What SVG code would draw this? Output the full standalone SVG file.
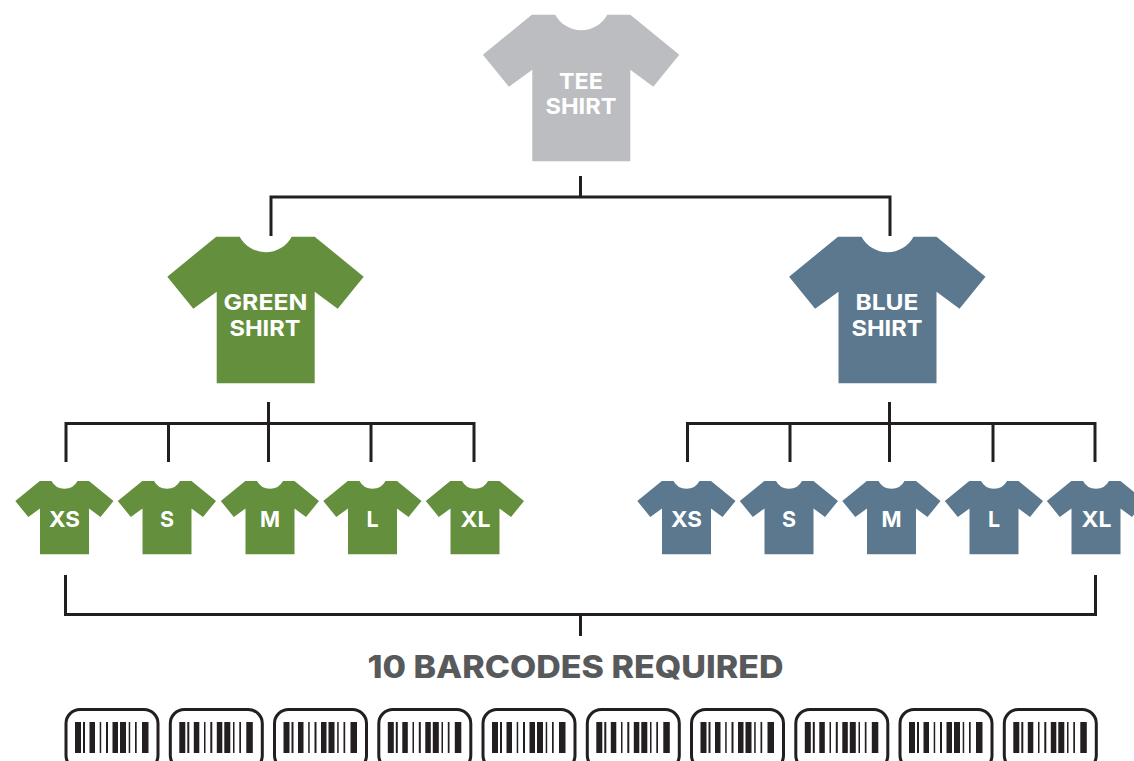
<svg xmlns="http://www.w3.org/2000/svg" width="1134" height="761" viewBox="0 0 1134 761">
<style>
.c{fill:none;stroke:#231f20;stroke-width:3}
.t{font-family:"Inter","Liberation Sans",sans-serif;font-weight:700;fill:#fff;text-anchor:middle}
.l{font-size:22px}
.s{font-size:21.5px}
.box{fill:none;stroke:#231f20;stroke-width:3}
.bar{fill:#231f20}
.gy{fill:#bbbdc0}.gr{fill:#648f3c}.bl{fill:#5b788f}
</style>
<defs>
<path id="shirt" d="M-26 0H-49.5L-98.4 40L-72.4 72L-49 55V146.6H49V55L72 72L98 40L49 0H26A29.5 29.5 0 0 1-26 0Z"/>
<path id="mini" d="M-13 0H-24.7L-49.2 20L-36.2 36L-24.5 27.5V73.3H24.5V27.5L36 36L49 20L24.5 0H13A14.7 14.7 0 0 1-13 0Z"/>
<g id="code">
<rect class="box" x="-9" y="709.5" width="92" height="60" rx="14"/>
<path class="bar" d="M0 722h6v31h-6zM8 722h2v31h-2zM14.5 722h5.5v31h-5.5zM24.7 722h1.5v31h-1.5zM31 722h2v31h-2zM37.5 722h5.5v31h-5.5zM45 722h6v31h-6zM53.7 722h1.5v31h-1.5zM60 722h1.7v31h-1.7zM67 722h6.5v31h-6.5z"/>
</g>
</defs>
<rect width="1134" height="761" fill="#fff"/>
<g id="connectors" class="c">
<path d="M580.5 176V197M271 236V197H890V236"/>
<path d="M268.5 402V462M66 462V423.5H474V462M168.5 423.5V462M371 423.5V462"/>
<path d="M889.5 402V462M687.5 462V423.5H1095V462M790 423.5V462M993 423.5V462"/>
<path d="M65.5 575V614.5H1095.5V575M580.5 614.5V636"/>
</g>
<g id="tee"><use href="#shirt" x="581.3" y="14.7" class="gy"/><text class="t l" x="581" y="88.5" textLength="44" lengthAdjust="spacingAndGlyphs">TEE</text><text class="t l" x="581" y="114" textLength="71" lengthAdjust="spacingAndGlyphs">SHIRT</text></g>
<g id="green"><use href="#shirt" x="265.7" y="236.7" class="gr"/><text class="t l" x="265.5" y="309.5" textLength="84" lengthAdjust="spacingAndGlyphs">GREEN</text><text class="t l" x="265" y="335.5" textLength="71" lengthAdjust="spacingAndGlyphs">SHIRT</text></g>
<g id="blue"><use href="#shirt" x="887.5" y="236.7" class="bl"/><text class="t l" x="887" y="309.5" textLength="63" lengthAdjust="spacingAndGlyphs">BLUE</text><text class="t l" x="887" y="335.5" textLength="71" lengthAdjust="spacingAndGlyphs">SHIRT</text></g>
<g id="green-xs"><use href="#mini" x="64.5" y="481" class="gr"/><text class="t s" x="64.5" y="527" textLength="31" lengthAdjust="spacingAndGlyphs">XS</text></g>
<g id="green-s"><use href="#mini" x="167" y="481" class="gr"/><text class="t s" x="167" y="527">S</text></g>
<g id="green-m"><use href="#mini" x="270" y="481" class="gr"/><text class="t s" x="270" y="527">M</text></g>
<g id="green-l"><use href="#mini" x="372.5" y="481" class="gr"/><text class="t s" x="372.5" y="527">L</text></g>
<g id="green-xl"><use href="#mini" x="475" y="481" class="gr"/><text class="t s" x="475.5" y="527" textLength="30" lengthAdjust="spacingAndGlyphs">XL</text></g>
<g id="blue-xs"><use href="#mini" x="686.5" y="481" class="bl"/><text class="t s" x="686.5" y="527" textLength="31" lengthAdjust="spacingAndGlyphs">XS</text></g>
<g id="blue-s"><use href="#mini" x="789" y="481" class="bl"/><text class="t s" x="789" y="527">S</text></g>
<g id="blue-m"><use href="#mini" x="891.5" y="481" class="bl"/><text class="t s" x="891.5" y="527">M</text></g>
<g id="blue-l"><use href="#mini" x="994" y="481" class="bl"/><text class="t s" x="994" y="527">L</text></g>
<g id="blue-xl"><use href="#mini" x="1096" y="481" class="bl"/><text class="t s" x="1096.5" y="527" textLength="30" lengthAdjust="spacingAndGlyphs">XL</text></g>
<text id="total" x="575.5" y="677.5" textLength="416" lengthAdjust="spacingAndGlyphs" style="font-family:Inter,'Liberation Sans',sans-serif;font-weight:800;font-size:31px;fill:#58595b;text-anchor:middle">10 BARCODES REQUIRED</text>
<g id="barcodes">
<use id="bc1" href="#code" x="75"/>
<use id="bc2" href="#code" x="179.3"/>
<use id="bc3" href="#code" x="283.5"/>
<use id="bc4" href="#code" x="387.8"/>
<use id="bc5" href="#code" x="492"/>
<use id="bc6" href="#code" x="596.3"/>
<use id="bc7" href="#code" x="700.5"/>
<use id="bc8" href="#code" x="804.8"/>
<use id="bc9" href="#code" x="909"/>
<use id="bc10" href="#code" x="1013.3"/>
</g>
</svg>
